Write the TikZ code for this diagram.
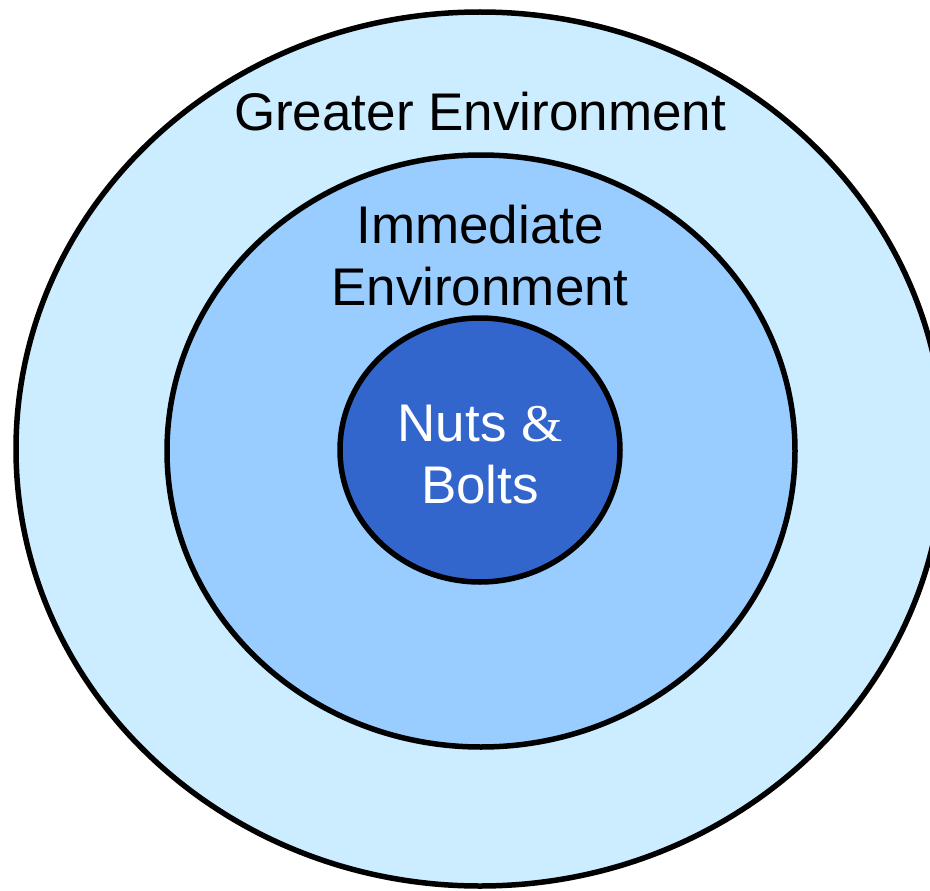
\documentclass[tikz,border=0pt]{standalone}
\usepackage{fontspec}
\setmainfont{Liberation Sans}
\newfontfamily\amperfont{Liberation Serif}
\definecolor{outerfill}{HTML}{CCECFF}
\definecolor{midfill}{HTML}{99CCFF}
\definecolor{innerfill}{HTML}{3366CC}
\begin{document}
\begin{tikzpicture}[x=1pt,y=-1pt,
  ring/.style={draw=black,line width=5.5pt},
  lbl/.style={font=\fontsize{53}{62}\selectfont,align=center,inner sep=0pt}]
\useasboundingbox (0,0) rectangle (930,891);
\draw[ring,fill=outerfill] (480,449) ellipse [x radius=464, y radius=437];
\draw[ring,fill=midfill] (481,451) ellipse [x radius=314, y radius=296];
\draw[ring,fill=innerfill] (480,450) ellipse [x radius=140, y radius=132];
\node[lbl,anchor=base] (greater) at (480,130) {Greater Environment};
\node[lbl,anchor=base] (immediate) at (480,305) {Immediate\\Environment};
\node[lbl,anchor=base,text=white] (nuts) at (480,503) {Nuts {\amperfont\&}\\Bolts};
\end{tikzpicture}
\end{document}
